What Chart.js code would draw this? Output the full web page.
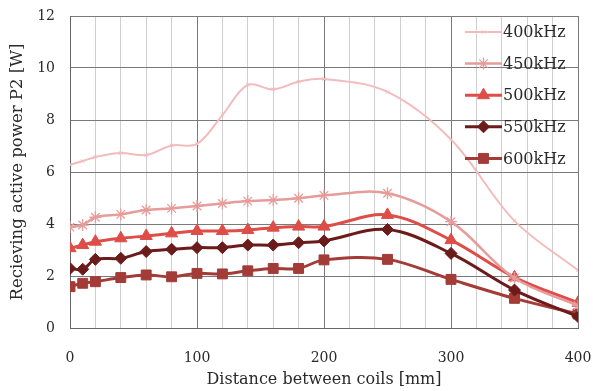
<!DOCTYPE html>
<html>
<head>
<meta charset="utf-8">
<script src="https://cdn.jsdelivr.net/npm/chart.js@4"></script>
<style>
  html, body { margin: 0; padding: 0; background: #fff; }
  #wrap { width: 593px; height: 391px; }
</style>
</head>
<body>
<div id="wrap"><canvas id="powerChart" width="593" height="391"></canvas></div>
<script>
// Distance between coils [mm]
const distances = [0, 10, 20, 40, 60, 80, 100, 120, 140, 160, 180, 200, 250, 300, 350, 400];

// Receiving active power P2 [W] for each frequency
const p400 = [6.28, 6.42, 6.58, 6.73, 6.65, 7.02, 7.08, 8.19, 9.35, 9.18, 9.47, 9.58, 9.08, 7.25, 4.12, 2.22];
const p450 = [3.88, 3.96, 4.26, 4.37, 4.54, 4.60, 4.69, 4.79, 4.88, 4.92, 4.99, 5.10, 5.18, 4.09, 1.92, 0.86];
const p500 = [3.07, 3.19, 3.32, 3.45, 3.54, 3.64, 3.73, 3.73, 3.77, 3.86, 3.90, 3.90, 4.35, 3.38, 1.95, 0.97];
const p550 = [2.29, 2.26, 2.64, 2.68, 2.94, 3.03, 3.09, 3.09, 3.19, 3.19, 3.28, 3.35, 3.79, 2.87, 1.46, 0.44];
const p600 = [1.59, 1.72, 1.78, 1.94, 2.04, 1.97, 2.10, 2.08, 2.20, 2.29, 2.29, 2.62, 2.64, 1.87, 1.14, 0.54];

const seriesLabels = ["400kHz", "450kHz", "500kHz", "550kHz", "600kHz"];
const yTicks = [0, 2, 4, 6, 8, 10, 12];
const xTickLabels = [0, 100, 200, 300, 400];

const serif = "'DejaVu Serif', 'Liberation Serif', serif";

function points(values) {
    return values.map((v, i) => ({ x: distances[i], y: v }));
}

const styles = [
    { color: "#f3bcbc", width: 2, style: "crossRot", radius: 2.5 },
    { color: "#e69c9a", width: 2.5, style: "star", radius: 6 },
    { color: "#de4d48", width: 3, style: "triangle", radius: 7 },
    { color: "#6c1b1b", width: 3, style: "rectRot", radius: 6 },
    { color: "#a33b37", width: 3, style: "rect", radius: 7 }
];

const allValues = [p400, p450, p500, p550, p600];

const datasets = allValues.map((vals, i) => ({
    label: seriesLabels[i],
    data: points(vals),
    borderColor: styles[i].color,
    backgroundColor: styles[i].color,
    borderWidth: styles[i].width,
    pointStyle: styles[i].style,
    pointRadius: styles[i].radius,
    pointBorderWidth: i === 1 ? 1.3 : 1,
    pointBorderColor: styles[i].color,
    pointBackgroundColor: styles[i].color,
    tension: 0.35,
    fill: false
}));

// legend drawn inside the plot area, top right, one entry per row
const insideLegend = {
    id: "insideLegend",
    afterDraw(chart) {
        const ctx = chart.ctx;
        const x1 = 465, x2 = 502, y0 = 32, dy = 31.6;
        ctx.save();
        chart.data.datasets.forEach((ds, i) => {
            const y = y0 + i * dy;
            ctx.strokeStyle = ds.borderColor;
            ctx.lineWidth = ds.borderWidth;
            ctx.beginPath();
            ctx.moveTo(x1, y);
            ctx.lineTo(x2, y);
            ctx.stroke();
            ctx.fillStyle = ds.pointBackgroundColor;
            ctx.strokeStyle = ds.pointBorderColor;
            ctx.lineWidth = ds.pointBorderWidth;
            Chart.helpers.drawPoint(ctx, {
                pointStyle: ds.pointStyle,
                radius: ds.pointRadius,
                rotation: 0,
                borderWidth: ds.pointBorderWidth
            }, (x1 + x2) / 2, y);
            ctx.fillStyle = "#2a2a2a";
            ctx.font = "16px " + serif;
            ctx.textAlign = "left";
            ctx.textBaseline = "middle";
            ctx.fillText(ds.label, x2 + 1, y + 1);
        });
        ctx.restore();
    }
};

new Chart(document.getElementById("powerChart").getContext("2d"), {
    type: "line",
    data: { datasets: datasets },
    options: {
        responsive: false,
        animation: false,
        layout: { padding: { left: 8, right: 0, top: 0, bottom: 2 } },
        plugins: {
            legend: { display: false },
            tooltip: { enabled: false }
        },
        scales: {
            x: {
                type: "linear",
                min: 0,
                max: 400,
                afterFit: (axis) => {
                    axis.height = 61;
                    axis.paddingLeft = 0;
                    axis.paddingRight = 15;
                },
                ticks: {
                    stepSize: 20,
                    autoSkip: false,
                    maxRotation: 0,
                    color: "#2a2a2a",
                    font: { family: serif, size: 14 },
                    padding: 22,
                    callback: (v) => xTickLabels.includes(v) ? String(v) : ""
                },
                grid: {
                    color: (c) => (c.tick && c.tick.value % 100 === 0) ? "#7a7a7a" : "#cfcfcf",
                    lineWidth: 1,
                    drawTicks: false
                },
                border: { color: "#666", width: 1 },
                title: {
                    display: true,
                    text: "Distance between coils [mm]",
                    color: "#2a2a2a",
                    font: { family: serif, size: 16 },
                    padding: { top: 6, bottom: 0 }
                }
            },
            y: {
                min: 0,
                max: 12,
                afterBuildTicks: (axis) => { axis.ticks = yTicks.map(v => ({ value: v })); },
                afterFit: (axis) => {
                    axis.width = 62;
                    axis.paddingTop = 16;
                    axis.paddingBottom = 0;
                },
                ticks: {
                    color: "#2a2a2a",
                    font: { family: serif, size: 14 },
                    padding: 15
                },
                grid: { color: "#7a7a7a", lineWidth: 1, drawTicks: false },
                border: { color: "#666", width: 1 },
                title: {
                    display: true,
                    text: "Recieving active power P2 [W]",
                    color: "#2a2a2a",
                    font: { family: serif, size: 16.5 },
                    padding: { top: 0, bottom: 9 }
                }
            }
        }
    },
    plugins: [insideLegend]
});
</script>
</body>
</html>
